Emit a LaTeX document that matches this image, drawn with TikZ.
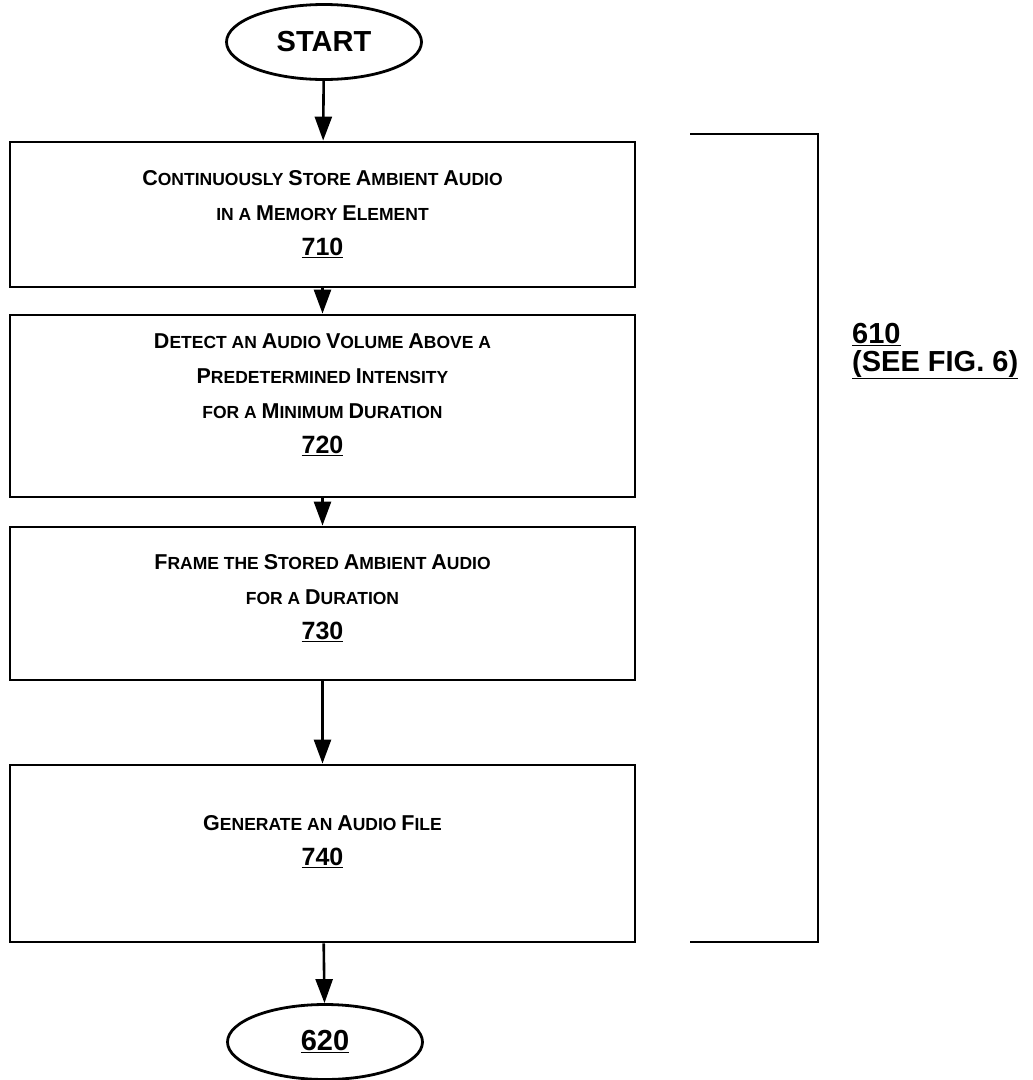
\documentclass[tikz,border=0pt]{standalone}
\usepackage{fontspec}
\setmainfont{Liberation Sans}
\usetikzlibrary{arrows.meta,shapes.geometric}
\newcommand\SCw[2]{{\fontsize{21.5}{35}\selectfont #1}#2}
\newcommand\NUMw[1]{{\fontsize{25}{35}\selectfont\underline{#1}}}
\begin{document}
\begin{tikzpicture}[x=1pt,y=-1pt,
 box/.style={draw,line width=2.8pt,minimum width=625pt,inner sep=0pt},
 txt/.style={align=center,inner sep=0pt,font=\bfseries\fontsize{17.5}{35}\selectfont},
 term/.style={draw,ellipse,line width=2.8pt,minimum width=195pt,minimum height=75pt,inner sep=0pt,font=\bfseries\fontsize{29}{30}\selectfont},
 arr/.style={line width=2.6pt,-{Triangle[length=24pt,width=17pt]}},
 brk/.style={line width=2.6pt},
 lbl/.style={anchor=west,align=left,inner sep=0pt,font=\bfseries\fontsize{29}{28}\selectfont}]
\useasboundingbox (0,0) rectangle (1033,1080);
\node[term] (start) at (324,42) {START};
\node[box,minimum height=145pt] (b710) at (322.5,214.5) {};
\node[txt] (t710) at (322.5,214)
 {\SCw{C}{ONTINUOUSLY} \SCw{S}{TORE} \SCw{A}{MBIENT} \SCw{A}{UDIO}\\
  IN A \SCw{M}{EMORY} \SCw{E}{LEMENT}\\
  \NUMw{710}};
\node[box,minimum height=182pt] (b720) at (322.5,406) {};
\node[txt] (t720) at (322.5,395)
 {\SCw{D}{ETECT} AN \SCw{A}{UDIO} \SCw{V}{OLUME} \SCw{A}{BOVE} A\\
  \SCw{P}{REDETERMINED} \SCw{I}{NTENSITY}\\
  FOR A \SCw{M}{INIMUM} \SCw{D}{URATION}\\
  \NUMw{720}};
\node[box,minimum height=153pt] (b730) at (322.5,603.5) {};
\node[txt] (t730) at (322.5,598)
 {\SCw{F}{RAME} THE \SCw{S}{TORED} \SCw{A}{MBIENT} \SCw{A}{UDIO}\\
  FOR A \SCw{D}{URATION}\\
  \NUMw{730}};
\node[box,minimum height=177pt] (b740) at (322.5,853.5) {};
\node[txt] (t740) at (322.5,842)
 {\SCw{G}{ENERATE} AN \SCw{A}{UDIO} \SCw{F}{ILE}\\
  \NUMw{740}};
\node[term,font=\bfseries\fontsize{29}{30}\selectfont] (end) at (325,1042) {\underline{620}};
\draw[arr] (start) -- (b710);
\draw[arr] (b710) -- (b720);
\draw[arr] (b720) -- (b730);
\draw[arr] (b730) -- (b740);
\draw[arr] (b740) -- (end);
\coordinate (bt) at (690,134);
\coordinate (bb) at (690,942);
\draw[brk] (bt) -- (818,134) -- (818,942) -- (bb);
\node[lbl] (l610) at (852,351) {\underline{610}\\\underline{(SEE FIG. 6)}};
\end{tikzpicture}
\end{document}
